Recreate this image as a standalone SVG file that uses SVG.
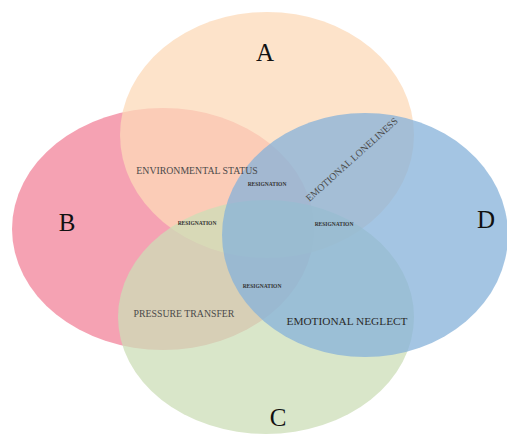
<svg xmlns="http://www.w3.org/2000/svg" width="507" height="435" viewBox="0 0 507 435">
<style>
.set{fill-opacity:0.75;stroke:none}
.big{font-family:"Liberation Serif","Times New Roman",serif;font-size:25px;fill:#111;text-anchor:middle}
.lbl{font-family:"Liberation Serif","Times New Roman",serif;font-size:9.8px;fill:#4a4a4a;text-anchor:middle}
.lbl2{font-family:"Liberation Serif","Times New Roman",serif;font-size:11.3px;fill:#2a2a2a;text-anchor:middle}
.res{font-family:"Liberation Serif","Times New Roman",serif;font-size:5.5px;font-weight:bold;fill:#333;text-anchor:middle}
</style>
<rect width="507" height="435" fill="#ffffff"/>
<g id="setB"><ellipse class="set" cx="163" cy="229" rx="151" ry="121" fill="#f2839a"/></g>
<g id="setA"><ellipse class="set" cx="267" cy="135" rx="147" ry="123" fill="#fcd9b8"/></g>
<g id="setC"><ellipse class="set" cx="266" cy="317" rx="148" ry="117" fill="#ccddb7"/></g>
<g id="setD"><ellipse class="set" cx="365" cy="235" rx="143" ry="122" fill="#85b1d9"/></g>
<g id="labels">
<text class="big" x="265" y="61">A</text>
<text class="big" x="67" y="231">B</text>
<text class="big" x="278" y="426">C</text>
<text class="big" x="486" y="228">D</text>
<text class="lbl" x="197" y="174">ENVIRONMENTAL STATUS</text>
<text class="lbl" x="184" y="317">PRESSURE TRANSFER</text>
<text class="lbl2" x="347" y="325">EMOTIONAL NEGLECT</text>
<text class="lbl" x="0" y="0" transform="translate(354,162) rotate(-42)">EMOTIONAL LONELINESS</text>
<text class="res" x="267" y="186">RESIGNATION</text>
<text class="res" x="197" y="225">RESIGNATION</text>
<text class="res" x="334" y="226">RESIGNATION</text>
<text class="res" x="262" y="288">RESIGNATION</text>
</g>
</svg>
